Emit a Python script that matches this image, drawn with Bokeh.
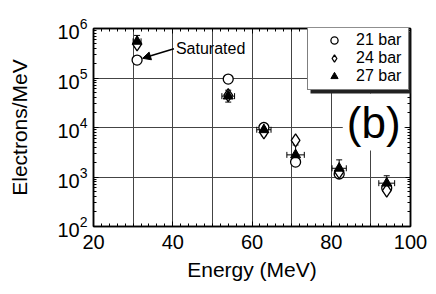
import math
from bokeh.plotting import figure
from bokeh.models import (FixedTicker, LinearAxis, LogAxis, Legend, LegendItem,
                          Whisker, TeeHead, Arrow, NormalHead, Label,
                          BoxAnnotation, ColumnDataSource, CustomJSTickFormatter)
from bokeh.embed import file_html
from bokeh.resources import INLINE

# ---- data ----
energy = [31, 54, 63, 71, 82, 94]
e21bar = [2.3e5, 9.5e4, 1.0e4, 2.0e3, 1.15e3, 6.0e2]
e24bar = [4.8e5, 4.5e4, 8.0e3, 5.5e3, 1.25e3, 5.3e2]
e27bar = [5.5e5, 4.3e4, 9.0e3, 2.8e3, 1.5e3, 7.5e2]
xerr27 = [1.0, 1.6, 1.8, 2.2, 1.8, 2.0]          # MeV
yerr27_dec = [0.12, 0.12, 0.12, 0.20, 0.17, 0.15]  # decades

x_major = [20, 40, 60, 80, 100]
x_minor = list(range(20, 101, 2))
x_grid = [30, 40, 50, 60, 70, 80, 90]
y_major = [1e2, 1e3, 1e4, 1e5, 1e6]
y_minor = [k * 10 ** n for n in range(2, 6) for k in range(2, 10)]
y_grid = [1e3, 1e4, 1e5]

FONT = "Liberation Sans"

p = figure(width=427, height=286, x_range=(20, 100), y_range=(1e2, 1e6),
           y_axis_type="log", output_backend="svg", toolbar_location=None,
           min_border_left=93, min_border_right=17, min_border_top=28,
           min_border_bottom=60)
p.background_fill_color = "white"
p.outline_line_color = "black"
p.outline_line_width = 1.5

# grids
p.xgrid.ticker = FixedTicker(ticks=x_grid)
p.ygrid.ticker = FixedTicker(ticks=y_grid)
for g in (p.xgrid, p.ygrid):
    g.grid_line_color = "#444444"
    g.grid_line_width = 1
p.ygrid.minor_grid_line_color = None

def style_axis(ax):
    ax.axis_line_color = "black"
    ax.axis_line_width = 1.5
    ax.major_tick_in = 5
    ax.major_tick_out = 0
    ax.minor_tick_in = 3
    ax.minor_tick_out = 0
    ax.major_tick_line_color = "black"
    ax.minor_tick_line_color = "black"
    ax.major_label_text_font = FONT
    ax.axis_label_text_font = FONT
    ax.axis_label_text_font_style = "normal"
    ax.major_label_text_color = "black"
    ax.axis_label_text_color = "black"

xax = p.xaxis[0]
xax.ticker = FixedTicker(ticks=x_major, minor_ticks=x_minor)
style_axis(xax)
xax.major_label_text_font_size = "20px"
xax.major_label_standoff = 8
xax.axis_label = "Energy (MeV)"
xax.axis_label_text_font_size = "21px"
xax.axis_label_standoff = 6

yax = p.yaxis[0]
yax.ticker = FixedTicker(ticks=y_major, minor_ticks=y_minor)
style_axis(yax)
yax.major_label_text_font_size = "20px"
yax.major_label_standoff = 6
yax.axis_label = "Electrons/MeV"
yax.axis_label_text_font_size = "21px"
yax.axis_label_standoff = 23

blank = CustomJSTickFormatter(code="return ''")
top = LinearAxis(ticker=FixedTicker(ticks=x_major, minor_ticks=x_minor), formatter=blank)
style_axis(top)
p.add_layout(top, "above")
right = LogAxis(ticker=FixedTicker(ticks=y_major, minor_ticks=y_minor), formatter=blank)
style_axis(right)
p.add_layout(right, "right")

# ---- data marks ----
src = ColumnDataSource(dict(
    x=energy, y21=e21bar, y24=e24bar, y27=e27bar,
    xl=[x - d for x, d in zip(energy, xerr27)],
    xu=[x + d for x, d in zip(energy, xerr27)],
    yl=[y / 10 ** d for y, d in zip(e27bar, yerr27_dec)],
    yu=[y * 10 ** d for y, d in zip(e27bar, yerr27_dec)],
))

r21 = p.scatter("x", "y21", source=src, marker="circle", size=10,
                fill_color="white", line_color="black", line_width=1.3)
r24 = p.scatter("x", "y24", source=src, marker="diamond", size=13,
                fill_color="white", line_color="black", line_width=1.3)
r27 = p.scatter("x", "y27", source=src, marker="triangle", size=10,
                fill_color="black", line_color="black", line_width=1)

p.add_layout(Whisker(source=src, base="x", lower="yl", upper="yu", dimension="height",
                     line_color="black", line_width=1,
                     lower_head=TeeHead(size=6, line_color="black"),
                     upper_head=TeeHead(size=6, line_color="black")))
p.add_layout(Whisker(source=src, base="y27", lower="xl", upper="xu", dimension="width",
                     line_color="black", line_width=1,
                     lower_head=TeeHead(size=6, line_color="black"),
                     upper_head=TeeHead(size=6, line_color="black")))

# annotation "Saturated"
p.add_layout(Arrow(end=NormalHead(size=8, fill_color="black", line_color="black"),
                   x_start=40.3, y_start=3.9e5, x_end=32.4, y_end=2.5e5,
                   line_color="black", line_width=1.5))
p.add_layout(Label(x=40.8, y=3.95e5, text="Saturated", text_font=FONT,
                   text_font_size="16px", text_baseline="middle", text_align="left",
                   text_color="black"))

# panel label
p.add_layout(Label(x=90.7, y=1.29e4, text="(b)", text_font=FONT, text_font_size="44px",
                   text_baseline="middle", text_align="center", text_color="black",
                   background_fill_color="white", padding=4))

# legend with drop shadow (kept inside the plot frame)
p.add_layout(BoxAnnotation(left=217, right=319, bottom=133, top=195,
                           left_units="screen", right_units="screen",
                           bottom_units="screen", top_units="screen",
                           fill_color="#222222", fill_alpha=1, line_color=None))
legend = Legend(items=[LegendItem(label="21 bar", renderers=[r21]),
                       LegendItem(label="24 bar", renderers=[r24]),
                       LegendItem(label="27 bar", renderers=[r27])],
                location=(214, 136), orientation="vertical",
                glyph_width=44, glyph_height=18, label_height=18, label_width=48,
                label_standoff=0, spacing=0, padding=4, margin=0,
                label_text_font=FONT, label_text_font_size="16px",
                label_text_color="black",
                border_line_color="black", border_line_width=1.5,
                background_fill_color="white", background_fill_alpha=1)
p.add_layout(legend, "center")

open("out.html", "w").write(file_html(p, INLINE))
